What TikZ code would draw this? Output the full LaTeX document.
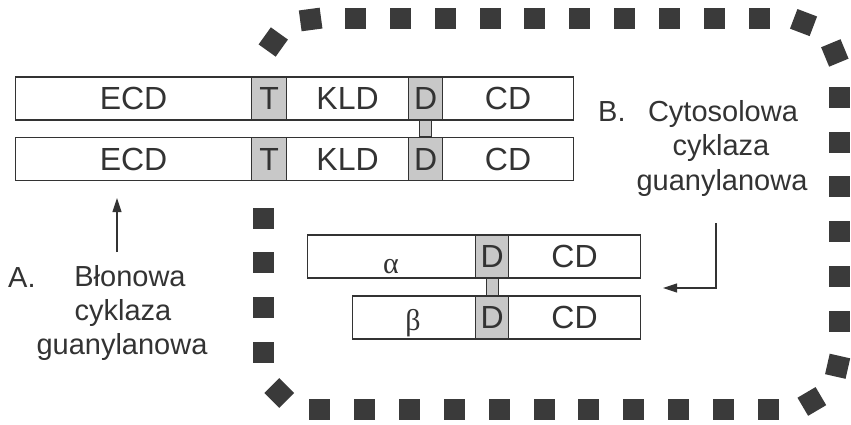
\documentclass[tikz,border=0pt]{standalone}
\usepackage{fontspec}
\setmainfont{Liberation Sans}
\newfontfamily\greekfont{Liberation Serif}
\usetikzlibrary{arrows.meta,decorations.markings,calc}
\definecolor{ink}{HTML}{333333}
\definecolor{segfill}{HTML}{C8C8C8}
\definecolor{sqcol}{HTML}{3A3A3A}
\tikzset{
  seg/.style={draw=ink, line width=1.1pt, minimum height=43pt, inner sep=0pt, anchor=west,
    font=\fontsize{32}{32}\selectfont, text=ink},
  grayseg/.style={seg, fill=segfill},
  linkbox/.style={draw=ink, line width=1.1pt, fill=segfill},
  lab/.style={anchor=base, inner sep=0pt, font=\fontsize{29}{29}\selectfont, text=ink},
  greek/.style={anchor=base, inner sep=0pt, font=\greekfont\fontsize{30}{30}\selectfont, text=ink},
  arr/.style={draw=ink, line width=1.1pt, -{Triangle[length=14pt,width=9pt]}},
  frame/.style={decoration={markings,
      mark=between positions 10.5pt and -30pt step 44.85pt with
      {\fill[sqcol, sharp corners] (-10.5pt,-10.5pt) rectangle (10.5pt,10.5pt);}},
    decorate, rounded corners=55pt}
}
\begin{document}
\begin{tikzpicture}[x=1pt, y=-1pt]
\useasboundingbox (0,0) rectangle (851,425);
\fill[white] (0,0) rectangle (851,425);

% dotted frame
\path[frame] (263,207.5) -- (263,409) -- (839,409) -- (839,19) -- (263,19) -- (263,80);

% membrane guanylyl cyclase, row 1
\node[seg, minimum width=236pt] (ecdA) at (15,98.5) {ECD};
\node[grayseg, minimum width=35pt] (tA) at (251,98.5) {T};
\node[seg, minimum width=122pt] (kldA) at (286,98.5) {KLD};
\node[grayseg, minimum width=34pt] (dA) at (408,98.5) {D};
\node[seg, minimum width=131pt] (cdA) at (442,98.5) {CD};
% row 2
\node[seg, minimum width=236pt] (ecdB) at (15,159) {ECD};
\node[grayseg, minimum width=35pt] (tB) at (251,159) {T};
\node[seg, minimum width=122pt] (kldB) at (286,159) {KLD};
\node[grayseg, minimum width=34pt] (dB) at (408,159) {D};
\node[seg, minimum width=131pt] (cdB) at (442,159) {CD};
\draw[linkbox] ($(dA.south)+(-6,0)$) rectangle ($(dB.north)+(6,0)$);

% cytosolic guanylyl cyclase
\node[seg, minimum width=168pt] (leftAl) at (307,256.5) {};
\node[grayseg, minimum width=33pt] (dAl) at (475,256.5) {D};
\node[seg, minimum width=132pt] (cdAl) at (508,256.5) {CD};
\node[seg, minimum width=123pt] (leftBe) at (352,317.5) {};
\node[grayseg, minimum width=33pt] (dBe) at (475,317.5) {D};
\node[seg, minimum width=132pt] (cdBe) at (508,317.5) {CD};
\draw[linkbox] ($(dAl.south)+(-6,0)$) rectangle ($(dBe.north)+(6,0)$);
\node[greek] (alpha) at (391,273) {α};
\node[greek] (beta) at (413,330) {β};

% labels
\node[lab, anchor=base west] (aLetter) at (8,287) {A.};
\node[lab] (aL1) at (130,286) {Błonowa};
\node[lab] (aL2) at (123,320) {cyklaza};
\node[lab] (aL3) at (122,354) {guanylanowa};
\node[lab, anchor=base west] (bLetter) at (598,122) {B.};
\node[lab] (bL1) at (723,122) {Cytosolowa};
\node[lab] (bL2) at (721,156) {cyklaza};
\node[lab] (bL3) at (722,190) {guanylanowa};

% arrows
\coordinate (aTail) at (117,252);
\coordinate (aTip) at (117,198);
\draw[arr] (aTail) -- (aTip);
\coordinate (bTail) at (716,223);
\coordinate (bTip) at (663,288);
\draw[arr] (bTail) |- (bTip);
\end{tikzpicture}
\end{document}
